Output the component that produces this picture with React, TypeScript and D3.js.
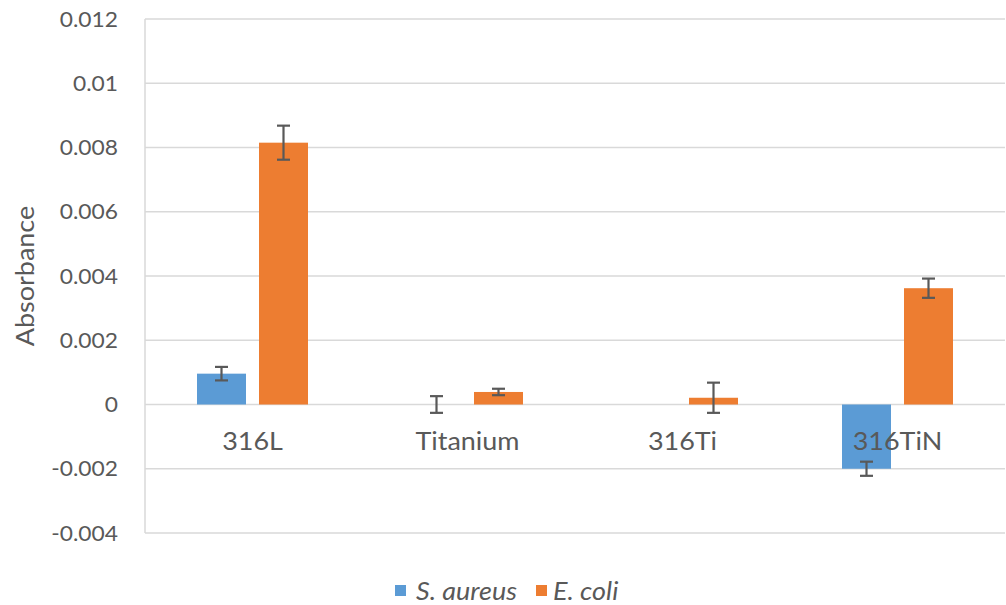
import React from "react";
import * as d3 from "d3";

const categories = ["316L", "Titanium", "316Ti", "316TiN"];
const seriesNames = ["S. aureus", "E. coli"];
const sAureus = [0.00096, 0, 0, -0.002];
const sAureusErr = [0.00021, 0.00026, 0, 0.00022];
const eColi = [0.00815, 0.00039, 0.00021, 0.00362];
const eColiErr = [0.00053, 0.0001, 0.00047, 0.0003];
const yTicks = [-0.004, -0.002, 0, 0.002, 0.004, 0.006, 0.008, 0.01, 0.012];
const yTickLabels = ["-0.004", "-0.002", "0", "0.002", "0.004", "0.006", "0.008", "0.01", "0.012"];
const colors = ["#5B9BD5", "#ED7D31"];

const W = 1006;
const H = 605;
const left = 145;
const right = 1005;
const top = 19;
const bottom = 533;
const font = "Lato, 'Open Sans', sans-serif";
const textColor = "#595959";

function T(props: { x: number; y: number; sx: number; size: number; anchor?: string; italic?: boolean; rotate?: number; children: React.ReactNode }) {
  const { x, y, sx, size, anchor, italic, rotate, children } = props;
  return (
    <g transform={`translate(${x},${y}) rotate(${rotate || 0}) scale(${sx},1)`}>
      <text x={0} y={0} dy="0.36em" textAnchor={anchor || "start"} fontSize={size} fontStyle={italic ? "italic" : "normal"} fill={textColor}>
        {children}
      </text>
    </g>
  );
}

export default function App() {
  const y = d3.scaleLinear().domain([-0.004, 0.012]).range([bottom, top]);
  const x0 = d3.scaleBand<string>().domain(categories).range([left, right]).paddingInner(0).paddingOuter(0);
  const bw = x0.bandwidth();
  const barW = 49;
  const gap = 13;
  const x1 = (i: number) => -(barW + gap / 2) + i * (barW + gap);
  const series = [
    { vals: sAureus, errs: sAureusErr },
    { vals: eColi, errs: eColiErr },
  ];
  const capHalf = 6.5;
  return (
    <svg width={W} height={H} style={{ position: "absolute", left: 0, top: 0, background: "#fff" }} fontFamily={font}>
      {yTicks.map((t, i) => (
        <g key={"t" + i}>
          <line x1={left} x2={right} y1={y(t)} y2={y(t)} stroke="#d9d9d9" strokeWidth={1.5} />
          <T x={118} y={y(t)} sx={1.06} size={21.5} anchor="end">
            {yTickLabels[i]}
          </T>
        </g>
      ))}
      <line x1={left} x2={left} y1={top} y2={bottom} stroke="#d9d9d9" strokeWidth={1.5} />
      {series.map((s, si) =>
        categories.map((c, ci) => {
          const cx = (x0(c) as number) + bw / 2;
          const bx = cx + x1(si);
          const v = s.vals[ci];
          const y0 = y(0);
          const yv = y(v);
          return (
            <g key={si + "-" + ci}>
              {v !== 0 && (
                <rect x={bx} width={barW} y={Math.min(y0, yv)} height={Math.abs(yv - y0)} fill={colors[si]} />
              )}
            </g>
          );
        })
      )}
      {categories.map((c, ci) => (
        <T key={"c" + ci} x={(x0(c) as number) + bw / 2} y={441} sx={1.1} size={24.5} anchor="middle">
          {c}
        </T>
      ))}
      {series.map((s, si) =>
        categories.map((c, ci) => {
          const e = s.errs[ci];
          if (e === 0) return null;
          const cx = (x0(c) as number) + bw / 2 + x1(si) + barW / 2;
          const v = s.vals[ci];
          const ya = y(v + e);
          const yb = y(v - e);
          return (
            <g key={"e" + si + "-" + ci} stroke="#595959" strokeWidth={2.2}>
              <line x1={cx} x2={cx} y1={ya} y2={yb} />
              <line x1={cx - capHalf} x2={cx + capHalf} y1={ya} y2={ya} />
              <line x1={cx - capHalf} x2={cx + capHalf} y1={yb} y2={yb} />
            </g>
          );
        })
      )}
      <T x={25} y={(top + bottom) / 2} sx={1.1} size={24.5} anchor="middle" rotate={-90}>
        Absorbance
      </T>
      <rect x={395} y={585} width={11} height={11} fill={colors[0]} />
      <T x={416} y={591} sx={1.1} size={24.5} italic>
        {seriesNames[0]}
      </T>
      <rect x={536} y={585} width={11} height={11} fill={colors[1]} />
      <T x={553} y={591} sx={1.1} size={24.5} italic>
        {seriesNames[1]}
      </T>
    </svg>
  );
}
